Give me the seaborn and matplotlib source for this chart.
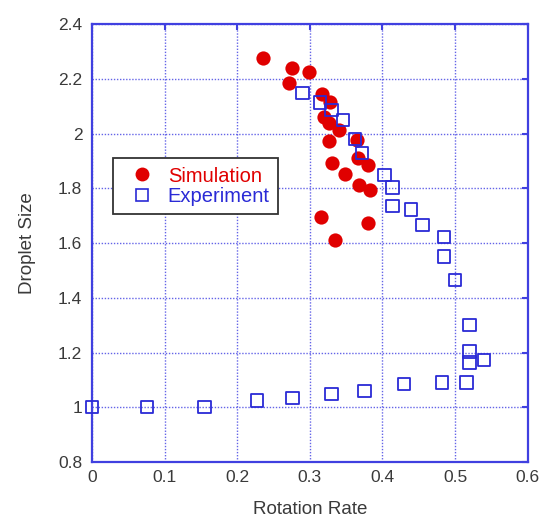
import matplotlib
matplotlib.use("Agg")
import matplotlib.pyplot as plt
import seaborn as sns
import pandas as pd
from matplotlib.lines import Line2D

# Simulation data (red filled circles)
sim_rate = [0.236, 0.275, 0.299, 0.271, 0.317, 0.328, 0.319, 0.327, 0.340, 0.326,
            0.365, 0.330, 0.348, 0.367, 0.380, 0.368, 0.383, 0.315, 0.380, 0.335]
sim_size = [2.277, 2.240, 2.224, 2.183, 2.143, 2.116, 2.059, 2.039, 2.013, 1.974,
            1.976, 1.893, 1.852, 1.912, 1.885, 1.811, 1.794, 1.696, 1.674, 1.611]

# Experiment data (blue open squares)
exp_rate = [0.290, 0.314, 0.330, 0.346, 0.362, 0.372, 0.403, 0.414, 0.414, 0.439,
            0.455, 0.485, 0.485, 0.500, 0.520, 0.520, 0.520, 0.540,
            0.000, 0.076, 0.155, 0.227, 0.276, 0.330, 0.375, 0.430, 0.482, 0.516]
exp_size = [2.147, 2.113, 2.086, 2.049, 1.979, 1.928, 1.848, 1.803, 1.736, 1.723,
            1.666, 1.621, 1.550, 1.465, 1.300, 1.203, 1.163, 1.173,
            1.000, 1.000, 1.000, 1.024, 1.034, 1.048, 1.060, 1.084, 1.091, 1.091]

x_ticks = [0, 0.1, 0.2, 0.3, 0.4, 0.5, 0.6]
x_labels = ["0", "0.1", "0.2", "0.3", "0.4", "0.5", "0.6"]
y_ticks = [0.8, 1.0, 1.2, 1.4, 1.6, 1.8, 2.0, 2.2, 2.4]
y_labels = ["0.8", "1", "1.2", "1.4", "1.6", "1.8", "2", "2.2", "2.4"]

RED = "#e00000"
BLUE = "#2a2ad6"
SPINE = "#4040e0"

sns.set_style("white")
plt.rcParams["font.family"] = ["Liberation Sans", "DejaVu Sans"]

fig = plt.figure(figsize=(5.42, 5.2), dpi=100)
ax = fig.add_axes([0.1697, 0.1115, 0.8039, 0.8423])

sim_df = pd.DataFrame({"rate": sim_rate, "size": sim_size})
exp_df = pd.DataFrame({"rate": exp_rate, "size": exp_size})

sns.scatterplot(data=sim_df, x="rate", y="size", ax=ax, marker="o", s=105,
                color=RED, edgecolor=RED, linewidth=0, zorder=3, clip_on=False)
sns.scatterplot(data=exp_df, x="rate", y="size", ax=ax, marker="s", s=80,
                facecolor="none", edgecolor=BLUE, linewidth=1.3, zorder=4, clip_on=False)

ax.set_xlim(0, 0.6)
ax.set_ylim(0.8, 2.4)
ax.set_xticks(x_ticks)
ax.set_xticklabels(x_labels)
ax.set_yticks(y_ticks)
ax.set_yticklabels(y_labels)

ax.grid(True, color="#3030e0", linestyle=(0, (1, 1.2)), linewidth=1.0, alpha=0.75)
ax.set_axisbelow(True)
for s in ax.spines.values():
    s.set_visible(True)
    s.set_color(SPINE)
    s.set_linewidth(1.6)

ax.tick_params(axis="both", which="both", direction="in", length=4, width=1.5,
               color=SPINE, top=True, right=True, labelsize=12.5,
               labelcolor="#3a3a3a")
ax.tick_params(axis="y", pad=7)
ax.tick_params(axis="x", pad=6)

ax.set_xlabel("Rotation Rate", fontsize=13.5, color="#3a3a3a", labelpad=11)
ax.set_ylabel("Droplet Size", fontsize=13.5, color="#3a3a3a", labelpad=16)

handles = [
    Line2D([], [], marker="o", linestyle="none", markersize=10,
           markerfacecolor=RED, markeredgecolor=RED, markeredgewidth=0),
    Line2D([], [], marker="s", linestyle="none", markersize=9,
           markerfacecolor="none", markeredgecolor=BLUE, markeredgewidth=1.2),
]
leg = ax.legend(handles, ["Simulation", "Experiment"], loc="upper left",
                bbox_to_anchor=(0.049, 0.693), fontsize=14.5, frameon=True,
                fancybox=False, shadow=False, framealpha=1, borderpad=0.4,
                handletextpad=0.3, handlelength=2.0, labelspacing=0.05,
                borderaxespad=0)
leg.get_frame().set_edgecolor("#333333")
leg.get_frame().set_linewidth(1.3)
for t, c in zip(leg.get_texts(), [RED, BLUE]):
    t.set_color(c)

fig.savefig("out.png", dpi=100)
